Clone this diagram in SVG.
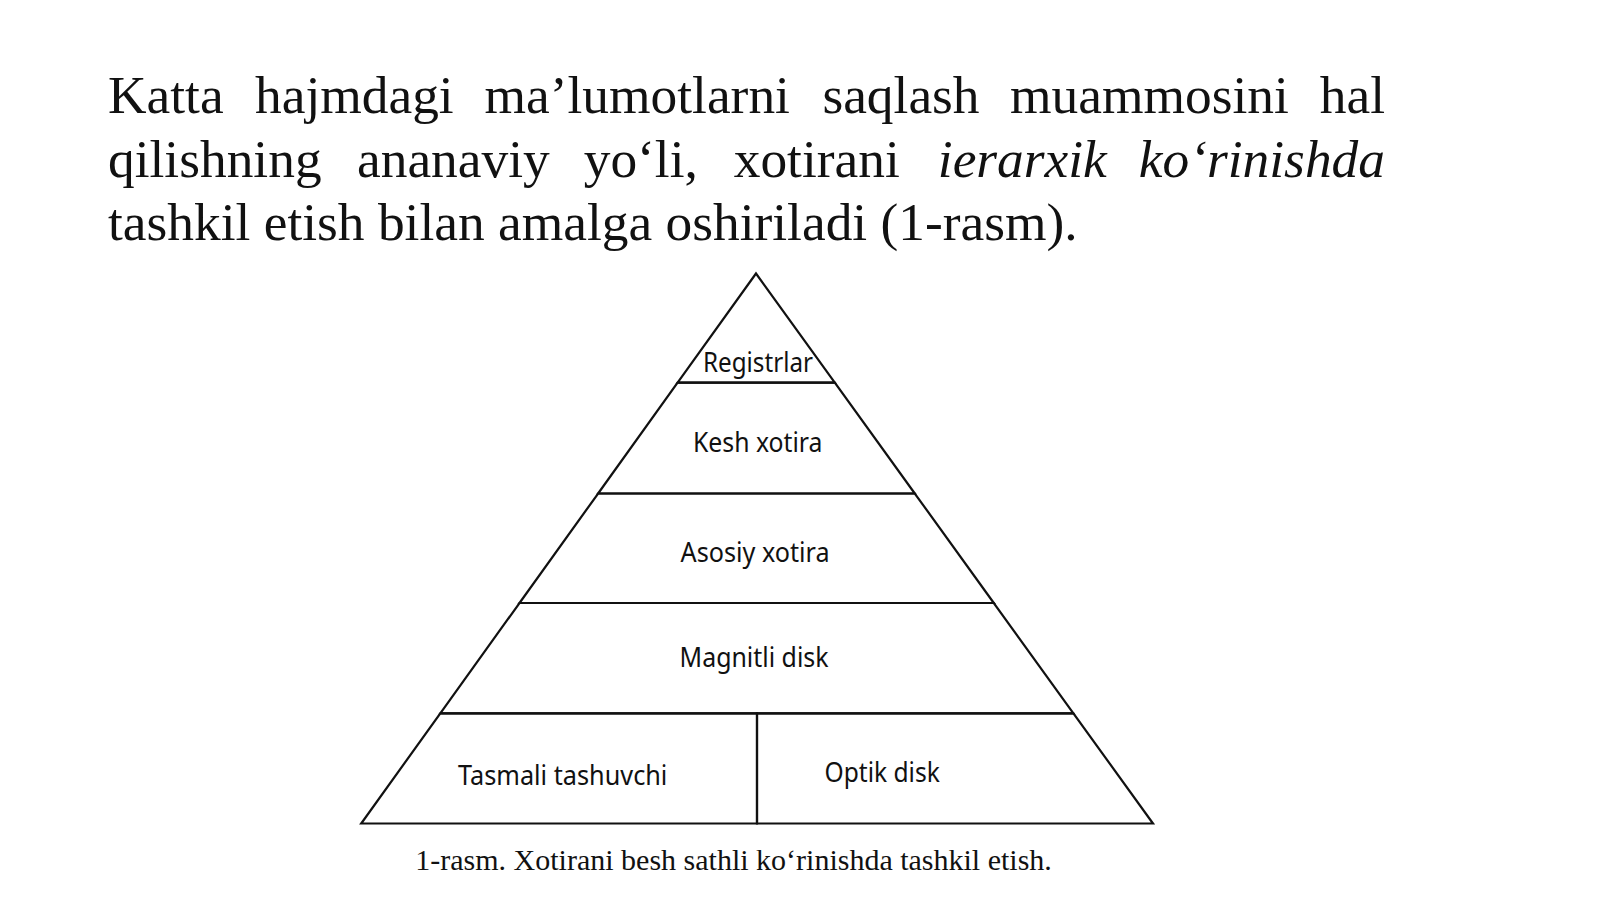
<svg xmlns="http://www.w3.org/2000/svg" width="1600" height="899" viewBox="0 0 1600 899">
<style>
.head{font-family:"Liberation Serif","Times New Roman",serif;font-size:53.4px;fill:#111}
.it{font-style:italic}
.cap{font-family:"Liberation Serif","Times New Roman",serif;font-size:30px;fill:#111}
.lbl{font-family:"Noto Sans","Open Sans",sans-serif;font-size:26.5px;fill:#111}
.tier{fill:none;stroke:#111;stroke-width:2.2;stroke-linejoin:miter}
</style>
<rect width="1600" height="899" fill="#fff"/>
<g id="heading" class="head">
<text y="112.5"><tspan x="108">Katta</tspan><tspan x="255">hajmdagi</tspan><tspan x="484.5">ma’lumotlarni</tspan><tspan x="822.4">saqlash</tspan><tspan x="1010">muammosini</tspan></text>
<text y="112.5" x="1385" text-anchor="end">hal</text>
<text y="176.5"><tspan x="108">qilishning</tspan><tspan x="357">ananaviy</tspan><tspan x="583.7">yo‘li,</tspan><tspan x="733.7">xotirani</tspan><tspan class="it" x="937.8">ierarxik</tspan></text>
<text y="176.5" x="1385" text-anchor="end" class="it">ko‘rinishda</text>
<text y="240" x="108">tashkil etish bilan amalga oshiriladi (1-rasm).</text>
</g>
<g id="pyramid">
<g id="tier-registrlar">
<polygon class="tier" points="756,273.5 834.8,382.7 677.6,382.7"/>
<text class="lbl" x="703" y="371.5" textLength="110" lengthAdjust="spacingAndGlyphs">Registrlar</text>
</g>
<g id="tier-kesh">
<polygon class="tier" points="677.6,382.7 834.8,382.7 914.8,493.5 598.1,493.5"/>
<text class="lbl" x="693" y="452" textLength="129.5" lengthAdjust="spacingAndGlyphs">Kesh xotira</text>
</g>
<g id="tier-asosiy">
<polygon class="tier" points="598.1,493.5 914.8,493.5 993.8,603 519.5,603"/>
<text class="lbl" x="680.6" y="561.5" textLength="149" lengthAdjust="spacingAndGlyphs">Asosiy xotira</text>
</g>
<g id="tier-magnitli">
<polygon class="tier" points="519.5,603 993.8,603 1073.4,713.3 440.3,713.3"/>
<text class="lbl" x="679.6" y="667" textLength="149" lengthAdjust="spacingAndGlyphs">Magnitli disk</text>
</g>
<g id="tier-tasmali">
<polygon class="tier" points="440.3,713.3 757,713.3 757,823.5 361.2,823.5"/>
<text class="lbl" x="458" y="784.7" textLength="209.4" lengthAdjust="spacingAndGlyphs">Tasmali tashuvchi</text>
</g>
<g id="tier-optik">
<polygon class="tier" points="757,713.3 1073.4,713.3 1153,823.5 757,823.5"/>
<text class="lbl" x="824.5" y="781.6" textLength="115.3" lengthAdjust="spacingAndGlyphs">Optik disk</text>
</g>
</g>
<g id="connectors"></g>
<g id="caption">
<text class="cap" x="415.3" y="869.5">1-rasm. Xotirani besh sathli ko‘rinishda tashkil etish.</text>
</g>
</svg>
